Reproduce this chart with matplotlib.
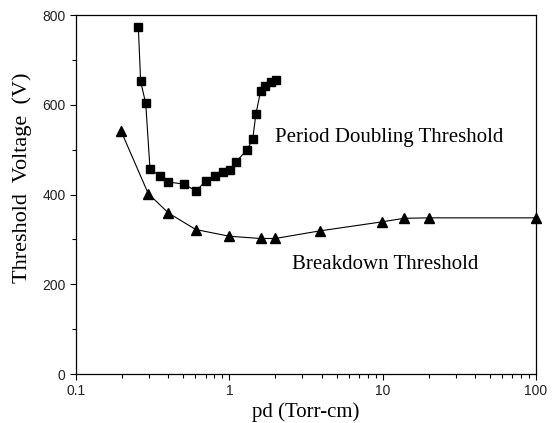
import matplotlib
matplotlib.use("Agg")
import matplotlib.pyplot as plt
from matplotlib.ticker import LogLocator, FixedLocator, MultipleLocator, FuncFormatter

# Period doubling threshold (squares)
pd_x = [0.255, 0.264, 0.285, 0.304, 0.353, 0.400, 0.507, 0.607, 0.701, 0.807,
        0.906, 1.01, 1.107, 1.30, 1.42, 1.49, 1.60, 1.72, 1.86, 2.02]
pd_v = [773, 652, 603, 456, 442, 428, 423, 408, 430, 442,
        450, 454, 473, 499, 523, 579, 631, 641, 650, 655]

# Breakdown threshold (triangles)
bd_x = [0.197, 0.296, 0.400, 0.604, 1.0, 1.60, 1.99, 3.9, 9.86, 13.8, 19.9, 100]
bd_v = [541, 402, 359, 322, 307, 302, 302, 319, 339, 347, 348, 348]

x_ticks = [0.1, 1, 10, 100]
x_tick_labels = ["0.1", "1", "10", "100"]
y_ticks = [0, 200, 400, 600, 800]

fig = plt.figure(figsize=(5.53, 4.23), dpi=100)
ax = fig.add_axes([0.1374, 0.1158, 0.8319, 0.8487])

ax.plot(pd_x, pd_v, color="black", lw=0.8, marker="s", ms=6.0, mfc="black", mec="black")
ax.plot(bd_x, bd_v, color="black", lw=0.8, marker="^", ms=7.5, mfc="black", mec="black", clip_on=False)

ax.set_xscale("log")
ax.set_xlim(0.1, 100)
ax.set_ylim(0, 800)
ax.xaxis.set_major_locator(FixedLocator(x_ticks))
ax.xaxis.set_major_formatter(FuncFormatter(lambda v, p: x_tick_labels[x_ticks.index(v)] if v in x_ticks else ""))
ax.xaxis.set_minor_locator(LogLocator(base=10, subs=range(2, 10)))
ax.xaxis.set_minor_formatter(FuncFormatter(lambda v, p: ""))
ax.yaxis.set_major_locator(FixedLocator(y_ticks))
ax.yaxis.set_minor_locator(MultipleLocator(100))

ax.tick_params(which="both", direction="out", top=False, right=False,
               labelsize=10, width=0.8, labelcolor="#222222")
ax.tick_params(which="major", length=4)
ax.tick_params(which="minor", length=3)
for lab in ax.get_xticklabels() + ax.get_yticklabels():
    lab.set_family("Liberation Sans")
for sp in ax.spines.values():
    sp.set_linewidth(0.9)

serif = "Liberation Serif"
ax.set_xlabel("pd (Torr-cm)", family=serif, fontsize=15, labelpad=3)
ax.set_ylabel("Threshold  Voltage  (V)", family=serif, fontsize=16, labelpad=6)
ax.yaxis.set_label_coords(-0.095, 0.546)

ax.text(1.99, 528, "Period Doubling Threshold", family=serif, fontsize=15,
        ha="left", va="center")
ax.text(2.56, 243, "Breakdown Threshold", family=serif, fontsize=15,
        ha="left", va="center")

fig.savefig("out.png", dpi=100)
